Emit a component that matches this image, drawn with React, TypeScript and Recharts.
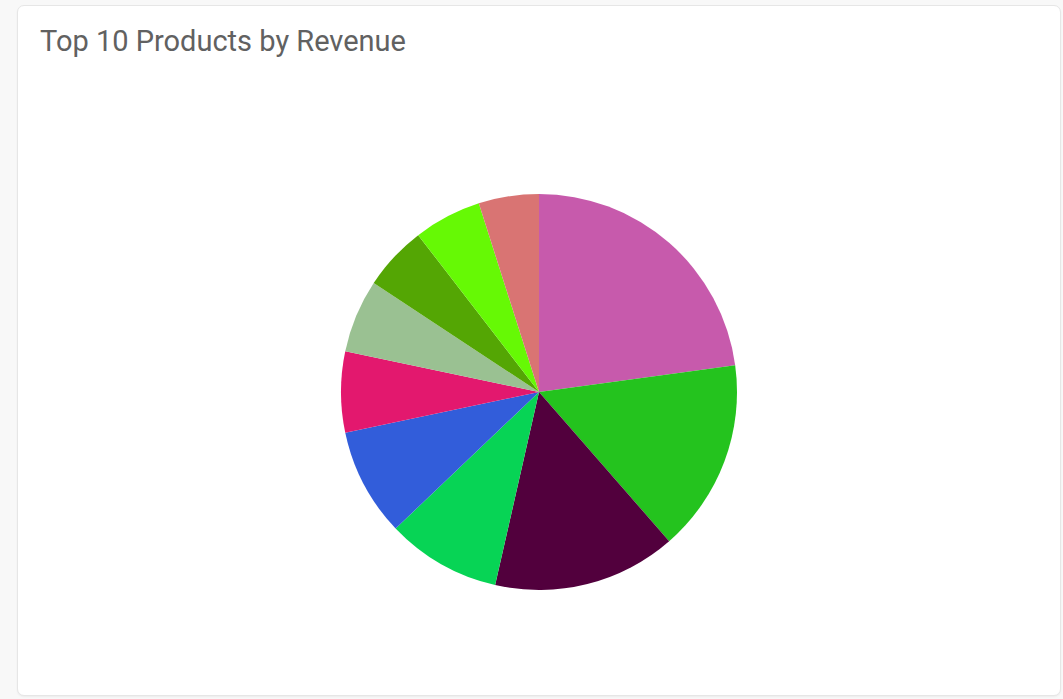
import React from "react";
import { PieChart, Pie, Cell } from "recharts";

const products = [
  "Product 1", "Product 2", "Product 3", "Product 4", "Product 5",
  "Product 6", "Product 7", "Product 8", "Product 9", "Product 10",
];
const revenue = [82.2, 56.7, 53.9, 33.6, 31.7, 23.8, 21.5, 19.0, 19.9, 17.7];
const colors = [
  "#C75AAC", "#24C31E", "#52003D", "#07D455", "#325DDA",
  "#E3186E", "#9AC192", "#54A604", "#66F905", "#D97473",
];

const data = products.map((name, i) => ({ name, value: revenue[i] }));

export default function App() {
  return (
    <div
      style={{
        position: "fixed",
        left: 0,
        top: 0,
        width: 1063,
        height: 699,
        background: "#f8f8f8",
        fontFamily: "Roboto, sans-serif",
      }}
    >
      <div
        style={{
          position: "absolute",
          left: 17,
          top: 5,
          width: 1042,
          height: 689,
          background: "#ffffff",
          border: "1px solid #e6e6e6",
          borderRadius: 7,
          boxShadow: "0 1px 2px rgba(0,0,0,0.05)",
        }}
      >
        <div
          style={{
            position: "absolute",
            left: 22,
            top: 18,
            fontSize: 29,
            color: "#616161",
            whiteSpace: "nowrap",
          }}
        >
          Top 10 Products by Revenue
        </div>
        <div style={{ position: "absolute", left: 0, top: 0 }}>
          <PieChart width={1042} height={689}>
            <Pie
              data={data}
              dataKey="value"
              nameKey="name"
              cx={516}
              cy={381}
              outerRadius={198}
              startAngle={90}
              endAngle={-270}
              stroke="none"
              isAnimationActive={false}
            >
              {data.map((d, i) => (
                <Cell key={d.name} fill={colors[i]} />
              ))}
            </Pie>
          </PieChart>
        </div>
      </div>
    </div>
  );
}
